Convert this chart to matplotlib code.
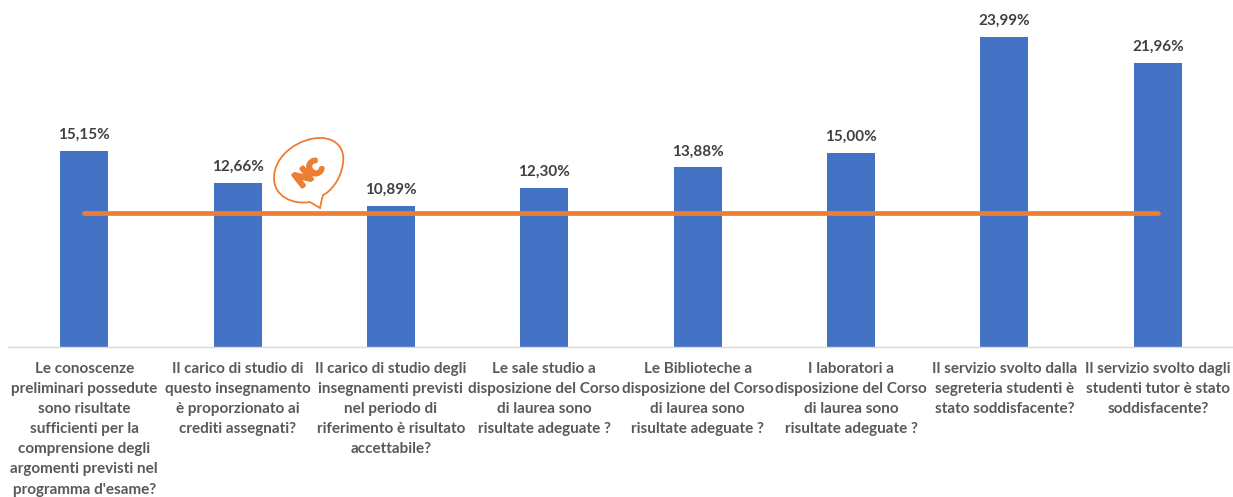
import matplotlib
matplotlib.use('Agg')
import matplotlib.pyplot as plt
import matplotlib.patheffects as pe
from matplotlib.path import Path
from matplotlib.patches import PathPatch

plt.rcParams['font.family'] = ['Lato', 'DejaVu Sans']

categories = [
    "Le conoscenze\npreliminari possedute\nsono risultate\nsufficienti per la\ncomprensione degli\nargomenti previsti nel\nprogramma d'esame?",
    "Il carico di studio di\nquesto insegnamento\nè proporzionato ai\ncrediti assegnati?",
    "Il carico di studio degli\ninsegnamenti previsti\nnel periodo di\nriferimento è risultato\naccettabile?",
    "Le sale studio a\ndisposizione del Corso\ndi laurea sono\nrisultate adeguate ?",
    "Le Biblioteche a\ndisposizione del Corso\ndi laurea sono\nrisultate adeguate ?",
    "I laboratori a\ndisposizione del Corso\ndi laurea sono\nrisultate adeguate ?",
    "Il servizio svolto dalla\nsegreteria studenti è\nstato soddisfacente?",
    "Il servizio svolto dagli\nstudenti tutor è stato\nsoddisfacente?",
]
values = [15.15, 12.66, 10.89, 12.30, 13.88, 15.00, 23.99, 21.96]
labels = ['15,15%', '12,66%', '10,89%', '12,30%', '13,88%', '15,00%', '23,99%', '21,96%']
reference = [10.35, 10.35, 10.35, 10.35, 10.35, 10.35, 10.35, 10.35]

fig = plt.figure(figsize=(12.33, 4.97), dpi=100)
# axes placed to line up with the baseline at y=347px
ax = fig.add_axes([7.5 / 1233, (497 - 347) / 497, 1227 / 1233, 336 / 497])
x = list(range(len(values)))
ax.bar(x, values, width=0.313, color='#4472C4', zorder=2)
ax.plot(x, reference, color='#ED7D31', lw=3.4, solid_capstyle='round', zorder=3)
for i, v in enumerate(values):
    ax.annotate(labels[i], (i, v), xytext=(0, 6.5), textcoords='offset points', ha='center', va='bottom',
                fontsize=11, fontweight='bold', color='#404040')

ax.set_xlim(-0.5, 7.5)
ax.set_ylim(0, 25.97)
ax.set_yticks([])
ax.set_xticks(x)
ax.set_xticklabels(categories, fontsize=11, fontweight='bold', color='#595959', linespacing=1.56)
ax.tick_params(axis='x', length=0, pad=10.5)
for s in ['top', 'left', 'right']:
    ax.spines[s].set_visible(False)
ax.spines['bottom'].set_color('#D9D9D9')
ax.spines['bottom'].set_linewidth(1)

# speech bubble logo, in pixel coordinates
over = fig.add_axes([0, 0, 1, 1], zorder=5)
over.set_xlim(0, 1233)
over.set_ylim(497, 0)
over.axis('off')
verts = [(310, 202), (292, 205), (274, 196), (274, 178), (274, 155), (300, 137), (322, 138),
         (338, 139), (345, 150), (343, 163), (341, 180), (330, 192), (323, 195),
         (322, 199), (321, 203), (320, 208), (310, 202)]
codes = [Path.MOVETO] + [Path.CURVE4] * 12 + [Path.LINETO] * 4
over.add_patch(PathPatch(Path(verts, codes), fc='white', ec='#ED7D31', lw=1.3))
over.text(309, 174, 'NC', fontsize=15, fontweight='bold', color='#ED7D31', rotation=38,
          ha='center', va='center',
          path_effects=[pe.withStroke(linewidth=2.5, foreground='#ED7D31')])

fig.savefig('out.png', dpi=100)
